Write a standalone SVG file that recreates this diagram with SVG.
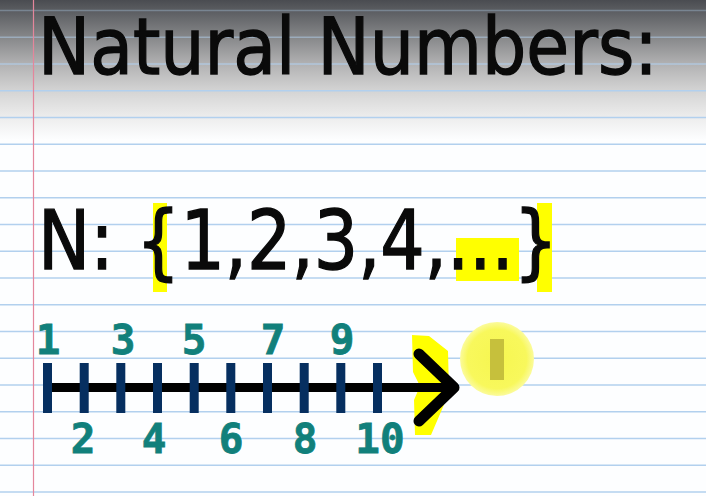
<svg xmlns="http://www.w3.org/2000/svg" width="706" height="496" viewBox="0 0 706 496">
<defs>
<linearGradient id="bg" x1="0" y1="0" x2="0" y2="140" gradientUnits="userSpaceOnUse">
<stop offset="0" stop-color="#4a4c51"/>
<stop offset="0.1" stop-color="#606266"/>
<stop offset="0.27" stop-color="#87888a"/>
<stop offset="0.46" stop-color="#b2b2b3"/>
<stop offset="0.65" stop-color="#d4d4d4"/>
<stop offset="0.83" stop-color="#ececec"/>
<stop offset="1" stop-color="#fdfeff"/>
</linearGradient>
<radialGradient id="cur">
<stop offset="0" stop-color="#f6f650"/>
<stop offset="0.8" stop-color="#f8f85c"/>
<stop offset="1" stop-color="#fbfb9c"/>
</radialGradient>
<style>
.rule{stroke:#b2d0ee;stroke-width:1.6}
.hl{fill:#ffff00}
.tick{fill:#062f60}
.num{font-family:"DejaVu Sans Mono","Liberation Mono",monospace;font-weight:bold;font-size:41px;fill:#11807b;stroke:#11807b;stroke-width:0.8;text-anchor:middle}
.big{font-family:"DejaVu Sans",sans-serif;fill:#0a0a0a;stroke:#0a0a0a;stroke-width:1.4}
</style>
</defs>
<g id="paper">
<rect x="0" y="0" width="706" height="496" fill="#fdfeff"/>
<rect x="0" y="0" width="706" height="140" fill="url(#bg)"/>
<g id="rules">
<line class="rule" x1="0" y1="10.5" x2="706" y2="10.5" stroke-opacity="0.35"/>
<line class="rule" x1="0" y1="37.3" x2="706" y2="37.3" stroke-opacity="0.5"/>
<line class="rule" x1="0" y1="64" x2="706" y2="64" stroke-opacity="0.7"/>
<line class="rule" x1="0" y1="90.8" x2="706" y2="90.8"/>
<line class="rule" x1="0" y1="117.5" x2="706" y2="117.5"/>
<line class="rule" x1="0" y1="144.3" x2="706" y2="144.3"/>
<line class="rule" x1="0" y1="171" x2="706" y2="171"/>
<line class="rule" x1="0" y1="197.8" x2="706" y2="197.8"/>
<line class="rule" x1="0" y1="224.5" x2="706" y2="224.5"/>
<line class="rule" x1="0" y1="251.3" x2="706" y2="251.3"/>
<line class="rule" x1="0" y1="278" x2="706" y2="278"/>
<line class="rule" x1="0" y1="304.8" x2="706" y2="304.8"/>
<line class="rule" x1="0" y1="331.5" x2="706" y2="331.5"/>
<line class="rule" x1="0" y1="358.3" x2="706" y2="358.3"/>
<line class="rule" x1="0" y1="385" x2="706" y2="385"/>
<line class="rule" x1="0" y1="411.8" x2="706" y2="411.8"/>
<line class="rule" x1="0" y1="438.5" x2="706" y2="438.5"/>
<line class="rule" x1="0" y1="465.3" x2="706" y2="465.3"/>
<line class="rule" x1="0" y1="492" x2="706" y2="492"/>
</g>
<line x1="33.5" y1="0" x2="33.5" y2="496" stroke="#e4869c" stroke-width="1.2"/>
</g>
<g id="title">
<text class="big" font-size="78.5" transform="translate(38 73.5) scale(0.889 1)" x="0" y="0">Natural Numbers:</text>
</g>
<g id="set">
<rect class="hl" x="153" y="203" width="14" height="89"/>
<rect class="hl" x="456" y="238" width="63" height="43"/>
<rect class="hl" x="537" y="203" width="15" height="89"/>
<text class="big" font-size="82" transform="translate(38 269) scale(0.852 1)" x="0" y="0">N: {1,2,3,4,...}</text>
</g>
<g id="numberline">
<polygon class="hl" points="412,335 429,336 448,351 449,393 431,435 415,435 414,400 420,386 413,372"/>
<line x1="47" y1="387.5" x2="452" y2="387.5" stroke="#000" stroke-width="9"/>
<rect class="tick" x="43" y="363" width="9" height="50"/>
<rect class="tick" x="79.7" y="363" width="9" height="50"/>
<rect class="tick" x="116.3" y="363" width="9" height="50"/>
<rect class="tick" x="153" y="363" width="9" height="50"/>
<rect class="tick" x="189.7" y="363" width="9" height="50"/>
<rect class="tick" x="226.3" y="363" width="9" height="50"/>
<rect class="tick" x="263" y="363" width="9" height="50"/>
<rect class="tick" x="299.7" y="363" width="9" height="50"/>
<rect class="tick" x="336.3" y="363" width="9" height="50"/>
<rect class="tick" x="373" y="363" width="9" height="50"/>
<polyline points="419,354 454,387.5 419,421" fill="none" stroke="#000" stroke-width="11" stroke-linecap="round" stroke-linejoin="round"/>
<text class="num" x="48" y="354">1</text>
<text class="num" x="123" y="354">3</text>
<text class="num" x="194" y="354">5</text>
<text class="num" x="273" y="354">7</text>
<text class="num" x="342" y="354">9</text>
<text class="num" x="83" y="453">2</text>
<text class="num" x="154" y="453">4</text>
<text class="num" x="231" y="453">6</text>
<text class="num" x="305" y="453">8</text>
<text class="num" x="380" y="453">10</text>
</g>
<g id="cursor">
<circle cx="497" cy="359" r="37" fill="url(#cur)"/>
<rect x="490" y="339" width="14" height="41" fill="#c6c03c"/>
</g>
</svg>
